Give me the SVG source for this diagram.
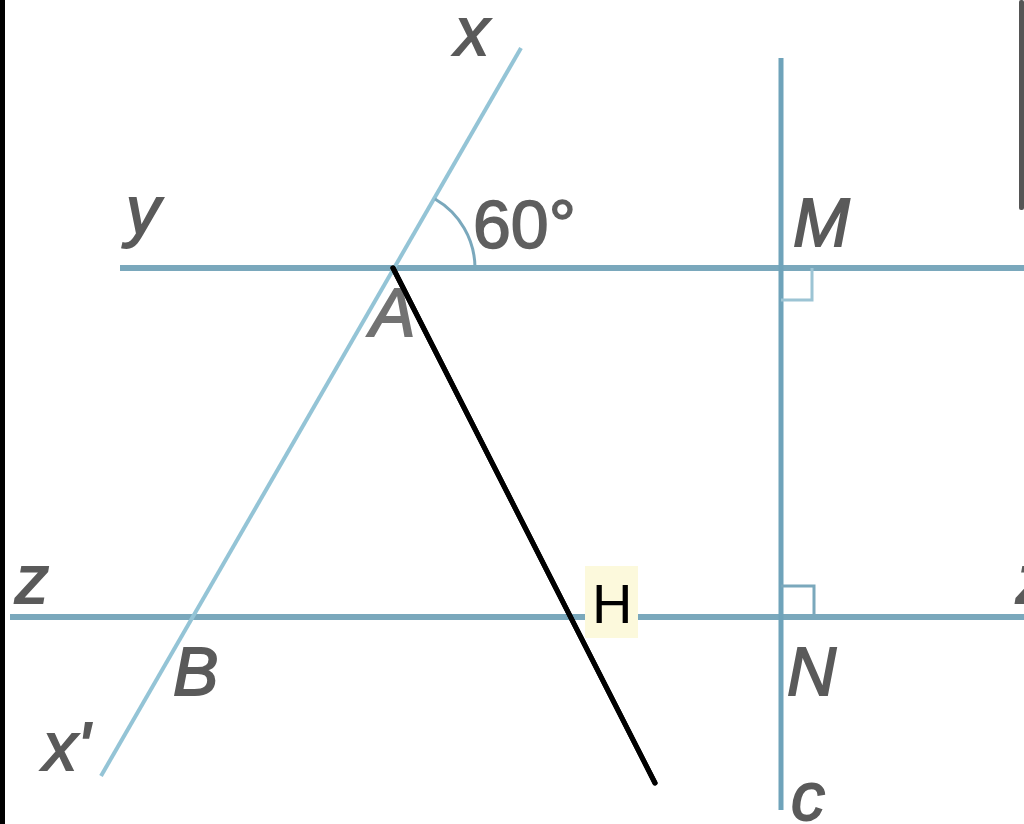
<svg xmlns="http://www.w3.org/2000/svg" width="1024" height="824" viewBox="0 0 1024 824">
<style>
.ln{stroke:#7aa8bc;fill:none;stroke-linecap:butt}
.lbl{font-family:"Liberation Sans",Arial,sans-serif;font-style:italic;font-size:68px;fill:#5a5a5a;stroke:#5a5a5a;stroke-width:1.8}
.num{font-family:"Liberation Sans",Arial,sans-serif;font-size:68px;fill:#5f5f5f;stroke:#5f5f5f;stroke-width:1.6}
</style>
<rect x="0" y="0" width="1024" height="824" fill="#ffffff"/>
<rect x="0" y="0" width="5" height="824" fill="#000000"/>
<rect x="1019" y="0" width="5" height="210" rx="2" fill="#555555"/>
<g id="connectors">
<line id="line-y" class="ln" x1="120" y1="268" x2="1024" y2="268" stroke-width="6"/>
<line id="line-z" class="ln" x1="10" y1="617" x2="1024" y2="617" stroke-width="6"/>
<line id="line-x" class="ln" x1="521" y1="48" x2="101" y2="776" stroke-width="4" style="stroke:#94c4d6"/>
<line id="line-c" class="ln" x1="781" y1="58" x2="781" y2="810" stroke-width="5" style="stroke:#6fa3ba"/>
<path id="angle-arc" class="ln" d="M435,199 A80,80 0 0 1 475,268" stroke-width="3"/>
<path id="right-M" class="ln" d="M781,300 H812 V268" stroke-width="3" style="stroke:#9cc4d4"/>
<path id="right-N" class="ln" d="M781,586 H814 V617" stroke-width="3"/>
<line id="line-AH" x1="393" y1="268" x2="655" y2="783" stroke="#000000" stroke-width="5" stroke-linecap="round"/>
</g>
<g id="node-x"><text class="lbl" x="455" y="55">x</text></g>
<g id="node-y"><text class="lbl" x="126" y="234">y</text></g>
<g id="node-60"><text class="num" x="473" y="248">60°</text></g>
<g id="node-M"><text class="lbl" x="793" y="246">M</text></g>
<g id="node-A"><text class="lbl" x="370" y="336" style="opacity:0.85">A</text></g>
<g id="node-z"><text class="lbl" x="15" y="603">z</text></g>
<g id="node-z2"><text class="lbl" x="1016" y="603">z</text></g>
<g id="node-B"><text class="lbl" x="173" y="695">B</text></g>
<g id="node-x2"><text class="lbl" x="43" y="770">x'</text></g>
<g id="node-N"><text class="lbl" x="787" y="695">N</text></g>
<g id="node-c"><text class="lbl" x="791" y="820">c</text></g>
<g id="node-H">
<rect x="585" y="566" width="53" height="72" fill="#fcf9dc"/>
<text x="592" y="623" font-family="Liberation Sans, Arial, sans-serif" font-size="56" fill="#000000">H</text>
</g>
<line x1="393" y1="268" x2="655" y2="783" stroke="#000000" stroke-width="5" stroke-linecap="round"/>
</svg>
